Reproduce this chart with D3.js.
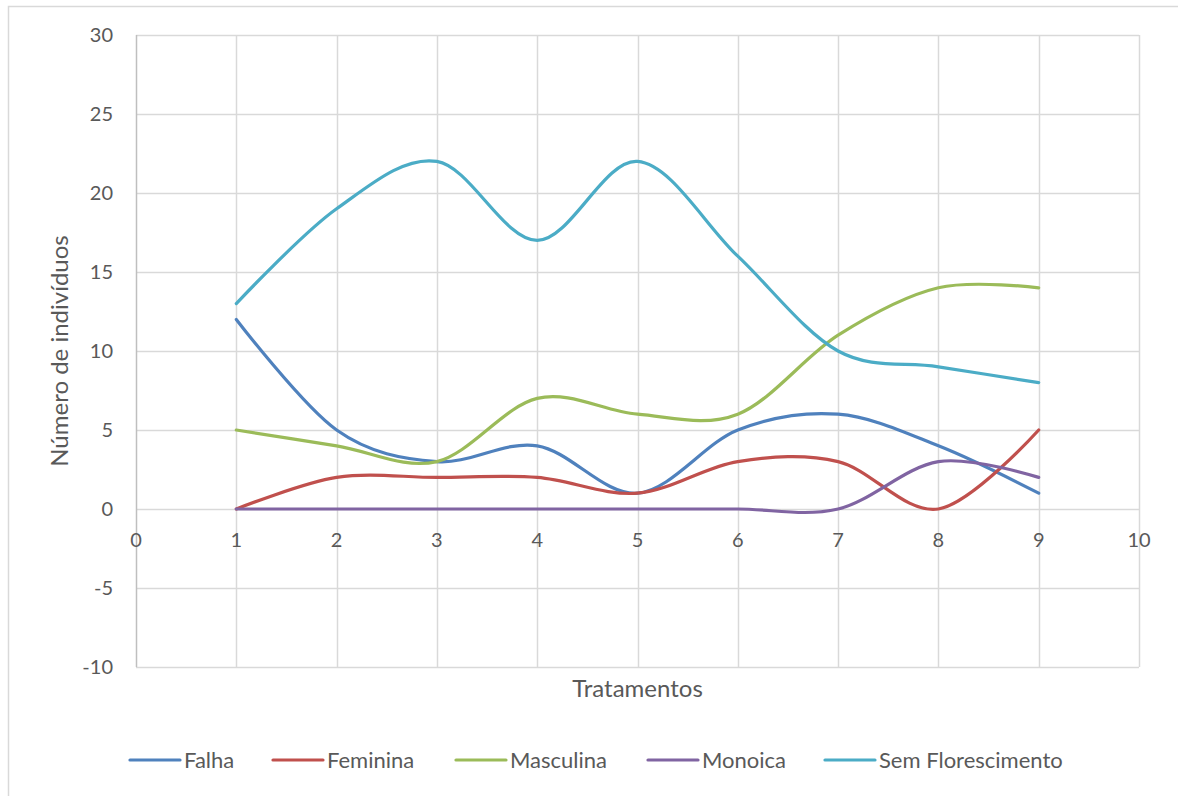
<!DOCTYPE html>
<html>
<head>
<meta charset="utf-8">
<script src="https://cdn.jsdelivr.net/npm/d3@7"></script>
<style>
  html, body { margin: 0; padding: 0; background: #fff; }
  svg { display: block; font-family: Lato, "Open Sans", "Liberation Sans", sans-serif; }
</style>
</head>
<body>
<svg id="chart" width="1178" height="796"></svg>
<script>
// Treatments 1..9
const tratamentos = [1, 2, 3, 4, 5, 6, 7, 8, 9];

// Individuals per category for each treatment
const falha = [12, 5, 3, 4, 1, 5, 6, 4, 1];
const feminina = [0, 2, 2, 2, 1, 3, 3, 0, 5];
const masculina = [5, 4, 3, 7, 6, 6, 11, 14, 14];
const monoica = [0, 0, 0, 0, 0, 0, 0, 3, 2];
const semFlorescimento = [13, 19, 22, 17, 22, 16, 10, 9, 8];

const seriesNames = ["Falha", "Feminina", "Masculina", "Monoica", "Sem Florescimento"];
const seriesColors = ["#4F81BD", "#C0504D", "#9BBB59", "#8064A2", "#4BACC6"];
const seriesValues = [falha, feminina, masculina, monoica, semFlorescimento];

const xTicks = [0, 1, 2, 3, 4, 5, 6, 7, 8, 9, 10];
const yTicks = [-10, -5, 0, 5, 10, 15, 20, 25, 30];

const svg = d3.select("#chart");
const textColor = "#595959";
const gridColor = "#D9D9D9";

// Outer chart frame
svg.append("rect")
  .attr("x", 8.5).attr("y", 6.5)
  .attr("width", 1200).attr("height", 820)
  .attr("fill", "#fff")
  .attr("stroke", "#D9D9D9").attr("stroke-width", 1.5);

const x = d3.scaleLinear().domain([0, 10]).range([136, 1139]);
const y = d3.scaleLinear().domain([-10, 30]).range([667, 35]);

// Gridlines
const grid = svg.append("g");
grid.selectAll("line.h").data(yTicks).join("line")
  .attr("class", "h")
  .attr("x1", x(0)).attr("x2", x(10))
  .attr("y1", d => Math.round(y(d)) + 0.5).attr("y2", d => Math.round(y(d)) + 0.5)
  .attr("stroke", gridColor).attr("stroke-width", 1.5);
grid.selectAll("line.v").data(xTicks.slice(1)).join("line")
  .attr("class", "v")
  .attr("y1", y(-10)).attr("y2", y(30))
  .attr("x1", d => Math.round(x(d)) + 0.5).attr("x2", d => Math.round(x(d)) + 0.5)
  .attr("stroke", gridColor).attr("stroke-width", 1.5);

// Vertical axis line
svg.append("line")
  .attr("x1", Math.round(x(0)) + 0.5).attr("x2", Math.round(x(0)) + 0.5)
  .attr("y1", y(-10)).attr("y2", y(30))
  .attr("stroke", "#BFBFBF").attr("stroke-width", 1.5);

// Y tick labels
svg.append("g").selectAll("text").data(yTicks).join("text")
  .attr("x", 113).attr("y", d => y(d))
  .attr("dy", "0.35em")
  .attr("text-anchor", "end")
  .attr("fill", textColor).attr("font-size", 20)
  .text(d => d);

// X tick labels, placed below the zero line
svg.append("g").selectAll("text").data(xTicks).join("text")
  .attr("x", d => x(d)).attr("y", y(0) + 31)
  .attr("dy", "0.35em")
  .attr("text-anchor", "middle")
  .attr("fill", textColor).attr("font-size", 20)
  .text(d => d);

// Axis titles
svg.append("text")
  .attr("x", x(5)).attr("y", 689).attr("dy", "0.35em")
  .attr("text-anchor", "middle")
  .attr("fill", textColor).attr("font-size", 24)
  .text("Tratamentos");

svg.append("text")
  .attr("transform", `translate(60, ${y(10)}) rotate(-90)`)
  .attr("dy", "0.35em")
  .attr("text-anchor", "middle")
  .attr("fill", textColor).attr("font-size", 24)
  .text("Número de indivíduos");

// Smoothed series lines
const line = d3.line()
  .x((d, i) => x(tratamentos[i]))
  .y(d => y(d))
  .curve(d3.curveCardinal.tension(0));

svg.append("g").selectAll("path").data(seriesValues).join("path")
  .attr("d", d => line(d))
  .attr("fill", "none")
  .attr("stroke", (d, i) => seriesColors[i])
  .attr("stroke-width", 3.2)
  .attr("stroke-linecap", "round")
  .attr("stroke-linejoin", "round");

// Legend
const legendX = [130, 273, 456, 648, 825];
const legend = svg.append("g").selectAll("g").data(seriesNames).join("g")
  .attr("transform", (d, i) => `translate(${legendX[i]}, 760)`);
legend.append("line")
  .attr("x1", 0).attr("x2", 50)
  .attr("stroke", (d, i) => seriesColors[i])
  .attr("stroke-width", 3.2)
  .attr("stroke-linecap", "round");
legend.append("text")
  .attr("x", 54).attr("dy", "0.35em")
  .attr("fill", textColor).attr("font-size", 22)
  .text(d => d);
</script>
</body>
</html>
